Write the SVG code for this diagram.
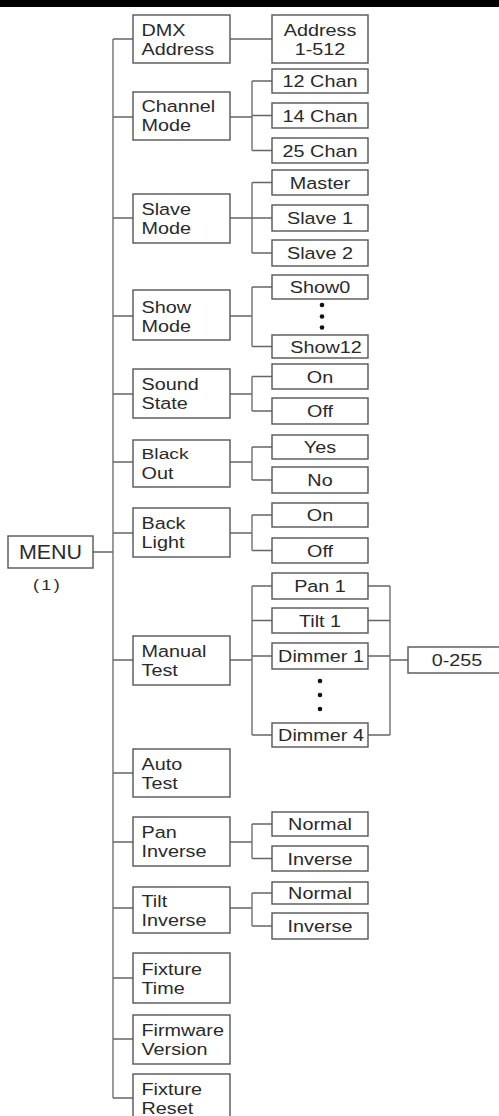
<svg xmlns="http://www.w3.org/2000/svg" width="499" height="1116" viewBox="0 0 499 1116">
<style>
  .box{fill:#fff;stroke:#555;stroke-width:1.4}
  .ln{fill:none;stroke:#666;stroke-width:1.3}
  text{font-family:"Liberation Sans",Arial,sans-serif;font-size:16.5px;fill:#2a2a2a}
  .l{transform:translate(141.5px,0px) scale(1.2,1)}
  .v{text-anchor:middle;transform:translate(320px,0px) scale(1.2,1)}
  .dot{fill:#111}
</style>
<rect x="0" y="0" width="499" height="7" fill="#000"/>
<g id="connectors">
  <path class="ln" d="M93 552H113M113 39V1098"/>
  <path class="ln" d="M113 39H133M113 117H133M113 218H133M113 316H133M113 394H133M113 462H133M113 533H133M113 660H133M113 773H133M113 842H133M113 908H133M113 978H133M113 1039H133M113 1098H133"/>
  <path class="ln" d="M230 39H272"/>
  <path class="ln" d="M230 117H252M252 81V150.5M252 81H272M252 115.5H272M252 150.5H272"/>
  <path class="ln" d="M230 218H252M252 182.5V253M252 182.5H272M252 218H272M252 253H272"/>
  <path class="ln" d="M230 316H252M252 287V346.5M252 287H272M252 346.5H272"/>
  <path class="ln" d="M230 394H252M252 376.5V411M252 376.5H272M252 411H272"/>
  <path class="ln" d="M230 462H252M252 447V480M252 447H272M252 480H272"/>
  <path class="ln" d="M230 533H252M252 515V550.5M252 515H272M252 550.5H272"/>
  <path class="ln" d="M230 660H252M252 586V735M252 586H272M252 620.5H272M252 656H272M252 735H272"/>
  <path class="ln" d="M368 586H390M368 620.5H390M368 656H390M368 735H390M390 586V735M390 660H408"/>
  <path class="ln" d="M230 842H252M252 824V858.5M252 824H272M252 858.5H272"/>
  <path class="ln" d="M230 908H252M252 893V926M252 893H272M252 926H272"/>
</g>
<g id="menu">
  <rect class="box" x="8" y="536" width="85" height="32"/>
  <text x="0" y="559.5" style="font-size:19.5px;text-anchor:middle;transform:translate(50.5px,0px) scale(1.1,1)">MENU</text>
  <text x="0" y="590" style="font-size:15px;letter-spacing:2px;text-anchor:middle;transform:translate(47.5px,0px) scale(1.2,1)">(1)</text>
</g>
<g id="dmx-address">
  <rect class="box" x="133" y="15" width="97" height="48"/>
  <text class="l" x="0" y="36">DMX</text><text class="l" x="0" y="54.8">Address</text>
</g>
<g id="address-1-512">
  <rect class="box" x="272" y="15" width="96" height="48"/>
  <text class="v" x="0" y="36">Address</text><text class="v" x="0" y="54.8">1-512</text>
</g>
<g id="channel-mode">
  <rect class="box" x="133" y="92" width="97" height="48"/>
  <text class="l" x="0" y="112.5">Channel</text><text class="l" x="0" y="131.3">Mode</text>
</g>
<g id="chan-12"><rect class="box" x="272" y="69" width="96" height="24"/><text class="v" x="0" y="87.2">12 Chan</text></g>
<g id="chan-14"><rect class="box" x="272" y="103" width="96" height="25"/><text class="v" x="0" y="121.7">14 Chan</text></g>
<g id="chan-25"><rect class="box" x="272" y="138" width="96" height="25"/><text class="v" x="0" y="156.7">25 Chan</text></g>
<g id="slave-mode">
  <rect class="box" x="133" y="194" width="97" height="49"/>
  <text class="l" x="0" y="215">Slave</text><text class="l" x="0" y="234">Mode</text>
</g>
<g id="master"><rect class="box" x="272" y="170" width="96" height="25"/><text class="v" x="0" y="188.7">Master</text></g>
<g id="slave-1"><rect class="box" x="272" y="205" width="96" height="26"/><text class="v" x="0" y="224.2">Slave 1</text></g>
<g id="slave-2"><rect class="box" x="272" y="240" width="96" height="26"/><text class="v" x="0" y="259.2">Slave 2</text></g>
<g id="show-mode">
  <rect class="box" x="133" y="290" width="97" height="50"/>
  <text class="l" x="0" y="313">Show</text><text class="l" x="0" y="331.8">Mode</text>
</g>
<g id="show0"><rect class="box" x="272" y="275" width="96" height="24"/><text class="v" x="0" y="293.2">Show0</text></g>
<g id="show-dots"><circle class="dot" cx="322" cy="305" r="2.3"/><circle class="dot" cx="322" cy="316.5" r="2.3"/><circle class="dot" cx="322" cy="327.5" r="2.3"/></g>
<g id="show12"><rect class="box" x="272" y="335" width="96" height="23"/><text class="v" x="0" y="352.7" style="transform:translate(326px,0px) scale(1.2,1)">Show12</text></g>
<g id="sound-state">
  <rect class="box" x="133" y="369" width="97" height="49"/>
  <text class="l" x="0" y="390.3">Sound</text><text class="l" x="0" y="409.1">State</text>
</g>
<g id="sound-on"><rect class="box" x="272" y="364" width="96" height="25"/><text class="v" x="0" y="382.7">On</text></g>
<g id="sound-off"><rect class="box" x="272" y="398" width="96" height="26"/><text class="v" x="0" y="417.2">Off</text></g>
<g id="black-out">
  <rect class="box" x="133" y="440" width="97" height="47"/>
  <text x="0" y="459" style="font-size:14.5px;transform:translate(141.5px,0px) scale(1.33,1)">Black</text><text class="l" x="0" y="479.5">Out</text>
</g>
<g id="yes"><rect class="box" x="272" y="435" width="96" height="24"/><text class="v" x="0" y="453.2">Yes</text></g>
<g id="no"><rect class="box" x="272" y="467" width="96" height="26"/><text class="v" x="0" y="486.2">No</text></g>
<g id="back-light">
  <rect class="box" x="133" y="508" width="97" height="49"/>
  <text class="l" x="0" y="529.3">Back</text><text class="l" x="0" y="548.1">Light</text>
</g>
<g id="light-on"><rect class="box" x="272" y="503" width="96" height="24"/><text class="v" x="0" y="521.2">On</text></g>
<g id="light-off"><rect class="box" x="272" y="538" width="96" height="25"/><text class="v" x="0" y="556.7">Off</text></g>
<g id="manual-test">
  <rect class="box" x="133" y="636" width="97" height="49"/>
  <text class="l" x="0" y="657.3">Manual</text><text class="l" x="0" y="676.1">Test</text>
</g>
<g id="pan-1"><rect class="box" x="272" y="573" width="96" height="26"/><text class="v" x="0" y="592.2">Pan 1</text></g>
<g id="tilt-1"><rect class="box" x="272" y="608" width="96" height="25"/><text class="v" x="0" y="626.7">Tilt 1</text></g>
<g id="dimmer-1"><rect class="box" x="272" y="643" width="96" height="26"/><text class="v" x="0" y="662.2" style="transform:translate(321px,0px) scale(1.2,1)">Dimmer 1</text></g>
<g id="dimmer-dots"><circle class="dot" cx="320" cy="681" r="2.3"/><circle class="dot" cx="320" cy="695" r="2.3"/><circle class="dot" cx="320" cy="709" r="2.3"/></g>
<g id="dimmer-4"><rect class="box" x="272" y="723" width="96" height="24"/><text class="v" x="0" y="741.2" style="transform:translate(321px,0px) scale(1.2,1)">Dimmer 4</text></g>
<g id="range-0-255"><rect class="box" x="408" y="647" width="100" height="26"/><text class="v" x="0" y="666.2" style="transform:translate(457px,0px) scale(1.2,1)">0-255</text></g>
<g id="auto-test">
  <rect class="box" x="133" y="749" width="97" height="48"/>
  <text class="l" x="0" y="769.8">Auto</text><text class="l" x="0" y="788.6">Test</text>
</g>
<g id="pan-inverse">
  <rect class="box" x="133" y="817" width="97" height="49"/>
  <text class="l" x="0" y="838.3">Pan</text><text class="l" x="0" y="857.1">Inverse</text>
</g>
<g id="pan-normal"><rect class="box" x="272" y="812" width="96" height="24"/><text class="v" x="0" y="830.2">Normal</text></g>
<g id="pan-inv"><rect class="box" x="272" y="846" width="96" height="25"/><text class="v" x="0" y="864.7">Inverse</text></g>
<g id="tilt-inverse">
  <rect class="box" x="133" y="887" width="97" height="46"/>
  <text class="l" x="0" y="906.8">Tilt</text><text class="l" x="0" y="925.6">Inverse</text>
</g>
<g id="tilt-normal"><rect class="box" x="272" y="882" width="96" height="22"/><text class="v" x="0" y="899.2">Normal</text></g>
<g id="tilt-inv"><rect class="box" x="272" y="913" width="96" height="26"/><text class="v" x="0" y="932.2">Inverse</text></g>
<g id="fixture-time">
  <rect class="box" x="133" y="953" width="97" height="50"/>
  <text class="l" x="0" y="974.8">Fixture</text><text class="l" x="0" y="993.6">Time</text>
</g>
<g id="firmware-version">
  <rect class="box" x="133" y="1015" width="97" height="49"/>
  <text class="l" x="0" y="1036.3">Firmware</text><text class="l" x="0" y="1055.1">Version</text>
</g>
<g id="fixture-reset">
  <rect class="box" x="133" y="1074" width="97" height="50"/>
  <text class="l" x="0" y="1094.8">Fixture</text><text class="l" x="0" y="1113.6">Reset</text>
</g>
</svg>
